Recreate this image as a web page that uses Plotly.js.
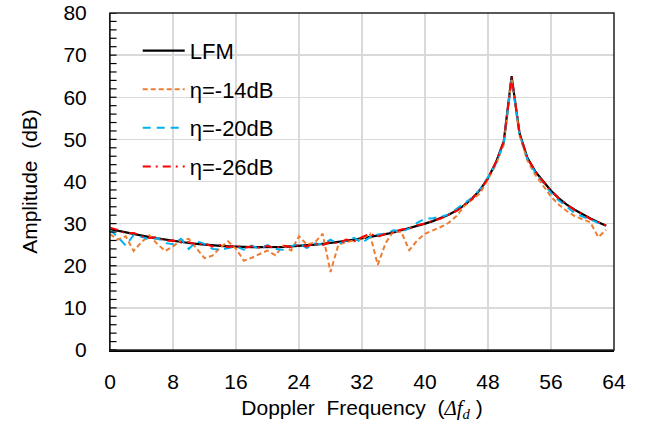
<!DOCTYPE html>
<html>
<head>
<meta charset="utf-8">
<script src="https://cdn.plot.ly/plotly-3.0.1.min.js"></script>
<style>html,body{margin:0;padding:0;background:#fff;}#chart{width:649px;height:429px;}</style>
</head>
<body>
<div id="chart"></div>
<script>
const freq = [0,1,2,3,4,5,6,7,8,9,10,11,12,13,14,15,16,17,18,19,20,21,22,23,24,25,26,27,28,29,30,31,32,33,34,35,36,37,38,39,40,41,42,43,44,45,46,47,48,49,50,51,52,53,54,55,56,57,58,59,60,61,62,63];
const lfm = [28.7,28.3,27.9,27.5,27.1,26.8,26.5,26.2,25.9,25.6,25.4,25.2,25.0,24.8,24.7,24.6,24.5,24.4,24.4,24.4,24.4,24.5,24.5,24.6,24.7,24.9,25.0,25.2,25.4,25.7,25.9,26.2,26.5,26.8,27.1,27.5,27.9,28.4,28.9,29.4,30.0,30.6,31.3,32.1,33.1,34.4,36.0,38.0,40.8,44.5,49.5,65.0,51.5,45.6,42.4,40.0,37.8,36.0,34.5,33.3,32.2,31.2,30.3,29.5];
const eta14 = [27.5,26.2,27.0,23.5,25.6,27.2,25.2,23.5,24.6,26.0,26.4,24.0,21.8,22.4,24.3,25.8,24.0,21.2,21.9,22.8,23.6,22.5,24.8,23.6,27.0,25.0,25.5,27.6,18.5,25.0,25.6,26.0,26.3,27.6,20.2,25.4,28.2,28.0,23.7,26.0,27.6,28.4,29.2,30.2,31.8,34.2,35.6,37.2,40.6,44.0,48.8,64.5,51.0,45.0,41.6,39.0,36.4,34.5,33.0,31.8,31.0,30.3,26.8,28.5];
const eta20 = [28.5,26.8,24.8,27.3,26.9,26.2,26.6,25.4,25.1,26.4,24.0,25.8,25.2,24.0,23.8,24.2,24.6,23.8,24.8,24.0,24.9,24.0,23.8,24.6,25.3,24.2,25.3,25.1,26.2,25.2,26.0,26.6,25.4,26.8,27.4,27.6,28.4,28.2,28.8,30.2,31.2,31.3,31.6,32.2,33.4,34.8,36.2,38.2,41.0,44.3,49.2,64.2,51.3,45.3,42.2,39.8,37.3,35.5,33.9,32.5,31.7,30.9,30.2,29.5];
const eta26 = [29.0,28.5,27.7,27.8,27.0,26.6,26.8,25.9,26.0,25.5,25.6,25.0,25.3,24.6,24.9,24.4,24.8,24.2,24.6,24.3,24.7,24.2,24.8,24.4,24.9,24.6,25.3,24.9,25.7,25.3,26.2,25.8,26.8,27.6,26.9,27.6,28.0,28.6,28.8,29.6,30.0,30.7,31.2,32.2,33.0,34.5,35.9,38.1,40.7,44.6,49.4,64.8,51.6,45.5,42.5,39.9,37.9,35.9,34.6,33.2,32.3,31.1,30.4,29.6];
const names = ['LFM','η=-14dB','η=-20dB','η=-26dB'];
const yTickMarks = [0,2,4,6,8,10,12,14,16,18,20,22,24,26,28,30,32,34,36,38,40,42,44,46,48,50,52,54,56,58,60,62,64,66,68,70,72,74,76,78,80];

const font = "'Liberation Sans', Arial, sans-serif";
const traces = [
  {x: freq, y: lfm, name: names[0], mode: 'lines', legendgroup: 'a', line: {color: '#000000', width: 2.2}},
  {x: freq, y: eta14, name: names[1], mode: 'lines', legendgroup: 'b', line: {color: '#ED7D31', width: 2, dash: '5px,3px'}},
  {x: freq, y: eta20, name: names[2], mode: 'lines', legendgroup: 'c', line: {color: '#00B0F0', width: 2, dash: '8px,6px'}},
  {x: freq, y: eta26, name: names[3], mode: 'lines', legendgroup: 'd', line: {color: '#FF0000', width: 2, dash: '8px,5px,2px,5px'}}
];
// frame + inside tick marks on the y axis (axis decoration)
const shapes = [{type: 'rect', xref: 'paper', yref: 'paper', x0: 0, x1: 1, y0: 0, y1: 1, line: {color: '#222', width: 1.5}, fillcolor: 'rgba(0,0,0,0)', layer: 'above'}];
yTickMarks.forEach(v => shapes.push({type: 'line', xref: 'paper', yref: 'y', x0: 0, x1: 0.013, y0: v, y1: v, line: {color: '#000', width: 1.2}, layer: 'above'}));

const layout = {
  width: 649, height: 429,
  margin: {l: 110, r: 35, t: 13, b: 79},
  paper_bgcolor: '#ffffff', plot_bgcolor: '#ffffff',
  font: {family: font, size: 21, color: '#000'},
  showlegend: true,
  legend: {x: 0.055, y: 0.95, xanchor: 'left', yanchor: 'top', bgcolor: 'rgba(255,255,255,0)', itemwidth: 42,
           font: {family: font, size: 22, color: '#000'}, traceorder: 'grouped', tracegroupgap: 7},
  shapes: shapes,
  xaxis: {range: [0, 64], tickmode: 'linear', tick0: 0, dtick: 8, showgrid: true, gridcolor: '#d9d9d9', gridwidth: 1.5,
          zeroline: false, showline: true, linecolor: '#000', linewidth: 1.5, ticks: '', ticklabelstandoff: 12,
          tickfont: {family: font, size: 21},
          title: {text: "Doppler  Frequency  (<span style=\"font-family:'Liberation Serif'\"><i>Δf</i><sub><i>d</i></sub></span> )", font: {family: font, size: 21}, standoff: 8}},
  yaxis: {range: [0, 80], tickmode: 'linear', tick0: 0, dtick: 10, showgrid: true, gridcolor: '#d9d9d9', gridwidth: 1.5,
          zeroline: false, showline: true, linecolor: '#000', linewidth: 1.5, ticks: '',
          ticksuffix: '   ', tickfont: {family: font, size: 21},
          title: {text: 'Amplitude  (dB)', font: {family: font, size: 21}, standoff: 20}}
};
Plotly.newPlot('chart', traces, layout, {displayModeBar: false, staticPlot: true});
</script>
</body>
</html>
